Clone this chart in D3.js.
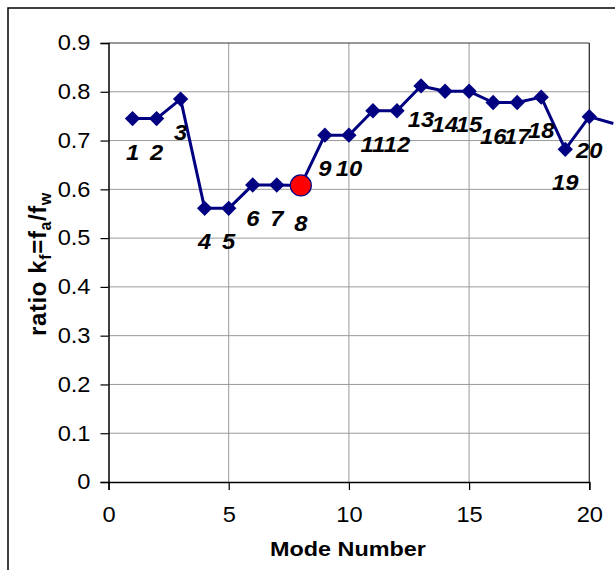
<!DOCTYPE html>
<html>
<head>
<meta charset="utf-8">
<script src="https://cdn.jsdelivr.net/npm/d3@7"></script>
<style>
body{margin:0;background:#fff;}
svg{display:block;font-family:Arial,"Liberation Sans",sans-serif;}
</style>
</head>
<body>
<svg id="chart" width="615" height="570"></svg>
<script>
// mode numbers and measured ratio kf = fa/fw
const modes = [1,2,3,4,5,6,7,8,9,10,11,12,13,14,15,16,17,18,19,20,21];
const ratio = [0.745,0.745,0.785,0.561,0.561,0.609,0.609,0.608,0.711,0.711,0.761,0.761,0.812,0.801,0.801,0.778,0.778,0.789,0.682,0.749,0.735];
const markedMode = 8;
const xTicks = [0,5,10,15,20];
const yTicks = [0,0.1,0.2,0.3,0.4,0.5,0.6,0.7,0.8,0.9];

const svg = d3.select('#chart');
const x = d3.scaleLinear().domain([0,20]).range([108.5,589.3]);
const y = d3.scaleLinear().domain([0,0.9]).range([482,43]);
const pts = modes.map((m,i)=>({m:m, v:ratio[i]}));

// widen glyphs horizontally around their own x anchor
function stretch(sel, s){
  sel.each(function(){
    const t = d3.select(this);
    const x0 = +t.attr('x') || 0;
    t.attr('transform', `translate(${x0*(1-s)},0) scale(${s},1)`);
  });
}

// outer chart frame (runs off the image on right and bottom)
svg.append('rect').attr('x',8).attr('y',8).attr('width',640).attr('height',600)
  .attr('fill','none').attr('stroke','#000').attr('stroke-width',1.5);

// gridlines
svg.append('g').selectAll('line').data(yTicks.slice(1,-1)).join('line')
  .attr('x1',x(0)).attr('x2',x(20)).attr('y1',d=>y(d)).attr('y2',d=>y(d))
  .attr('stroke','#9a9a9a').attr('stroke-width',1);
svg.append('g').selectAll('line').data(xTicks.slice(1,-1)).join('line')
  .attr('x1',d=>x(d)).attr('x2',d=>x(d)).attr('y1',y(0)).attr('y2',y(0.9))
  .attr('stroke','#9a9a9a').attr('stroke-width',1);

// plot frame top / right
svg.append('line').attr('x1',x(0)).attr('x2',x(20)).attr('y1',y(0.9)).attr('y2',y(0.9))
  .attr('stroke','#333').attr('stroke-width',1);
svg.append('line').attr('x1',x(20)).attr('x2',x(20)).attr('y1',y(0.9)).attr('y2',y(0))
  .attr('stroke','#222').attr('stroke-width',1.2);

// axes
const yAxis = d3.axisLeft(y).tickValues(yTicks).tickSize(8).tickPadding(10)
  .tickFormat(d=>d===0?'0':d3.format('.1f')(d));
const gy = svg.append('g').attr('transform',`translate(${x(0)},0)`).call(yAxis);
const xAxis = d3.axisBottom(x).tickValues(xTicks).tickSize(8).tickPadding(17);
const gx = svg.append('g').attr('transform',`translate(0,${y(0)})`).call(xAxis);
[gy,gx].forEach(g=>{
  g.select('.domain').attr('stroke','#000').attr('stroke-width',1.5);
  g.selectAll('.tick line').attr('stroke','#000').attr('stroke-width',1.2);
  g.selectAll('.tick text').attr('font-size',21.5).attr('fill','#000')
    .attr('font-family','Arial,"Liberation Sans",sans-serif')
    .call(stretch,1.1);
});

// series line
const line = d3.line().x(d=>x(d.m)).y(d=>y(d.v));
svg.append('path').datum(pts).attr('d',line)
  .attr('fill','none').attr('stroke','#000080').attr('stroke-width',3).attr('stroke-linejoin','round');

const shown = pts.filter(d=>d.m<=20);
const diamond = d3.symbol().type(d3.symbolSquare).size(118);
svg.append('g').selectAll('path').data(shown.filter(d=>d.m!==markedMode)).join('path')
  .attr('d',diamond)
  .attr('transform',d=>`translate(${x(d.m)},${y(d.v)}) rotate(45)`)
  .attr('fill','#000080');
svg.append('g').selectAll('circle').data(shown.filter(d=>d.m===markedMode)).join('circle')
  .attr('cx',d=>x(d.m)).attr('cy',d=>y(d.v)).attr('r',10.5)
  .attr('fill','#ff0000').attr('stroke','#000080').attr('stroke-width',1.2);

// point labels
svg.append('g').selectAll('text').data(shown).join('text')
  .attr('x',d=>x(d.m)).attr('y',d=>y(d.v)+(d.m===markedMode?46:41))
  .attr('text-anchor','middle').attr('font-size',22).attr('font-weight','bold')
  .attr('font-style','italic').attr('fill','#000')
  .text(d=>d.m)
  .call(stretch,1.08);

// axis titles
svg.append('text').attr('x',348).attr('y',556).attr('text-anchor','middle')
  .attr('font-size',20).attr('font-weight','bold').text('Mode Number')
  .call(stretch,1.17);

const yt = svg.append('text').attr('transform','translate(46,264) rotate(-90)')
  .attr('text-anchor','middle').attr('font-size',24).attr('font-weight','bold')
  .attr('letter-spacing',0.6);
yt.append('tspan').text('ratio k');
yt.append('tspan').attr('font-size',16).attr('dy',5).text('f');
yt.append('tspan').attr('dy',-5).text('=f');
yt.append('tspan').attr('font-size',16).attr('dy',5).text('a');
yt.append('tspan').attr('dy',-5).text('/f');
yt.append('tspan').attr('font-size',16).attr('dy',5).text('w');
</script>
</body>
</html>
